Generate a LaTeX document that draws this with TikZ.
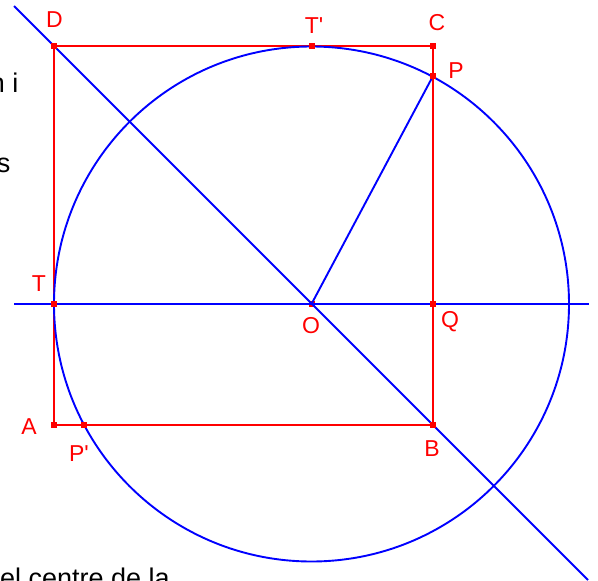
\documentclass[tikz,border=0pt]{standalone}
\usepackage{fontspec}
\setmainfont{Liberation Sans}
\begin{document}
\begin{tikzpicture}[x=1pt,y=-1pt,
  redline/.style={red, line width=1.9pt},
  blueline/.style={blue, line width=1.9pt},
  dotmark/.style={rectangle, fill=red, minimum size=6pt, inner sep=0pt},
  lab/.style={red, inner sep=0pt, font=\fontsize{23}{27}\selectfont},
  txt/.style={black, inner sep=0pt, font=\fontsize{27}{32}\selectfont}]
\useasboundingbox (0,0) rectangle (598,581);
% points
\coordinate (O) at (311.5,304);
\coordinate (D) at (54,46);
\coordinate (C) at (433,46);
\coordinate (B) at (433,425);
\coordinate (A) at (54,425);
\coordinate (T) at (54,304);
\coordinate (Tp) at (311.5,46);
\coordinate (Q) at (433,304);
\coordinate (P) at (433,76);
\coordinate (Pp) at (84,425);
\coordinate (H1) at (14,304);
\coordinate (H2) at (589,304);
\coordinate (L1) at (14,6);
\coordinate (L2) at (588,580);
% background text fragments (cut off by the page edge, as in the reference)
\node[txt, anchor=base east] (t1) at (18.5,92) {n i};
\node[txt, anchor=base east] (t2) at (10.5,172) {s};
\node[txt, anchor=base east] (t3) at (170,587) {el centre de la};
% red square
\draw[redline] (A) -- (B) -- (C) -- (D) -- cycle;
\node[dotmark] (mO) at (O) {};
% blue construction
\draw[blueline] (O) circle[radius=257.5];
\draw[blueline] (H1) -- (H2);
\draw[blueline] (L1) -- (L2);
\draw[blueline] (O) -- (P);
% markers
\foreach \p in {D,C,B,A,T,Tp,Q,P,Pp}{\node[dotmark] (m\p) at (\p) {};}
% labels
\node[lab] (lD) at (54.5,19.5) {D};
\node[lab] (lTp) at (314,26) {T\textquotesingle};
\node[lab] (lC) at (437,23) {C};
\node[lab] (lP) at (456,71) {P};
\node[lab] (lQ) at (450,322) {Q};
\node[lab] (lB) at (432,449) {B};
\node[lab] (lA) at (29,427) {A};
\node[lab] (lPp) at (79,454) {P\textquotesingle};
\node[lab] (lT) at (39,284) {T};
\node[lab] (lO) at (311,326) {O};
\end{tikzpicture}
\end{document}
